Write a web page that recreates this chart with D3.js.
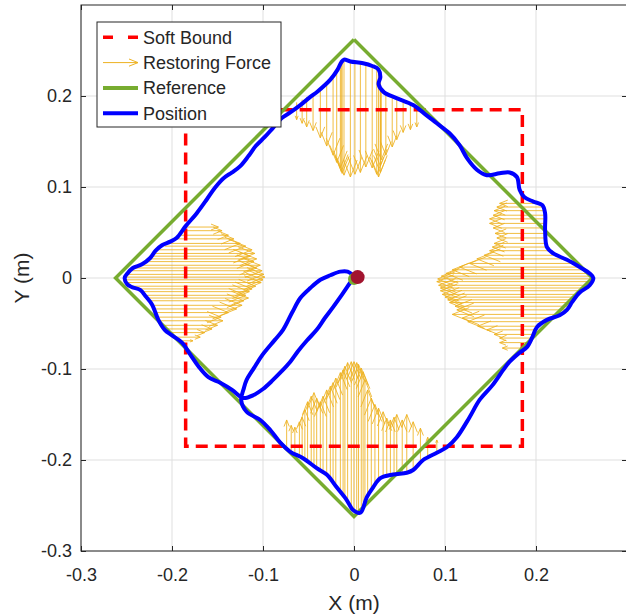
<!DOCTYPE html>
<html>
<head>
<meta charset="utf-8">
<script src="https://cdn.jsdelivr.net/npm/d3@7"></script>
<style>
  body { margin: 0; background: #fff; }
  svg { display: block; font-family: "Liberation Sans", Arial, Helvetica, sans-serif; }
</style>
</head>
<body>
<svg id="chart" width="626" height="616"></svg>
<script>
// axis ticks
const tickValues = [-0.3, -0.2, -0.1, 0, 0.1, 0.2];

// soft bound square
const boundX = [-0.185, 0.185, 0.185, -0.185, -0.185];
const boundY = [0.185, 0.185, -0.185, -0.185, 0.185];

// reference diamond
const refX = [0, 0.262, 0, -0.262, 0];
const refY = [0.262, 0, -0.262, 0, 0.262];

// position: from the origin out to the diamond
const pathOut = [
  [0, 0], [-0.004, -0.005], [-0.013, -0.018], [-0.023, -0.032], [-0.032, -0.044],
  [-0.041, -0.057], [-0.052, -0.069], [-0.062, -0.081], [-0.070, -0.092], [-0.080, -0.103],
  [-0.089, -0.112], [-0.100, -0.122], [-0.111, -0.129], [-0.121, -0.132]
];

// position: one lap around the diamond
const lapPath = [
  [-0.124, -0.131], [-0.134, -0.123], [-0.147, -0.115], [-0.160, -0.109], [-0.171, -0.097],
  [-0.180, -0.084], [-0.189, -0.071], [-0.200, -0.063], [-0.208, -0.057], [-0.215, -0.046],
  [-0.222, -0.029], [-0.229, -0.020], [-0.235, -0.013], [-0.244, -0.010], [-0.249, -0.007],
  [-0.252, 0], [-0.249, 0.005], [-0.243, 0.011], [-0.233, 0.015], [-0.224, 0.022],
  [-0.218, 0.030], [-0.211, 0.036], [-0.202, 0.040], [-0.195, 0.044], [-0.185, 0.057],
  [-0.173, 0.071], [-0.162, 0.086], [-0.153, 0.099], [-0.143, 0.110], [-0.134, 0.116],
  [-0.125, 0.123], [-0.116, 0.134], [-0.108, 0.145], [-0.098, 0.155], [-0.089, 0.165],
  [-0.079, 0.176], [-0.070, 0.182], [-0.059, 0.190], [-0.048, 0.199], [-0.040, 0.205],
  [-0.026, 0.218], [-0.018, 0.229], [-0.014, 0.237], [-0.011, 0.240], [-0.004, 0.238],
  [0.010, 0.236], [0.020, 0.233], [0.027, 0.229], [0.029, 0.221], [0.027, 0.213],
  [0.033, 0.204], [0.046, 0.198], [0.065, 0.190], [0.077, 0.181], [0.091, 0.170],
  [0.105, 0.159], [0.116, 0.146], [0.124, 0.132], [0.135, 0.119], [0.146, 0.113],
  [0.160, 0.115], [0.171, 0.116], [0.179, 0.111], [0.182, 0.097], [0.187, 0.089],
  [0.197, 0.084], [0.207, 0.080], [0.210, 0.071], [0.210, 0.053], [0.212, 0.034],
  [0.219, 0.027], [0.234, 0.020], [0.248, 0.012], [0.259, 0.005], [0.263, 0],
  [0.259, -0.008], [0.248, -0.016], [0.240, -0.026], [0.234, -0.035], [0.226, -0.041],
  [0.212, -0.046], [0.201, -0.054], [0.196, -0.065], [0.190, -0.076], [0.182, -0.082],
  [0.171, -0.092], [0.164, -0.101], [0.152, -0.118], [0.138, -0.134], [0.127, -0.153],
  [0.113, -0.175], [0.102, -0.186], [0.091, -0.192], [0.076, -0.200], [0.065, -0.211],
  [0.058, -0.214], [0.043, -0.216], [0.029, -0.220], [0.021, -0.230], [0.014, -0.241],
  [0.007, -0.258], [-0.001, -0.255], [-0.008, -0.244], [-0.019, -0.230], [-0.030, -0.216],
  [-0.041, -0.209], [-0.056, -0.198], [-0.070, -0.191], [-0.081, -0.181], [-0.092, -0.167],
  [-0.103, -0.156], [-0.118, -0.147], [-0.124, -0.134]
];

// position: back to the origin
const pathBack = [
  [-0.121, -0.121], [-0.118, -0.112], [-0.110, -0.099], [-0.101, -0.085], [-0.087, -0.068],
  [-0.078, -0.057], [-0.068, -0.038], [-0.059, -0.022], [-0.048, -0.011], [-0.037, -0.002],
  [-0.026, 0.003], [-0.015, 0.007], [-0.007, 0.007], [0, 0.002]
];

// restoring force arrows: [x, yFrom, yTo]
const forceTop = [
  [-0.063, 0.193, 0.174], [-0.057, 0.196, 0.170], [-0.052, 0.199, 0.166], [-0.045, 0.203, 0.162],
  [-0.037, 0.209, 0.154], [-0.030, 0.214, 0.145], [-0.023, 0.221, 0.135], [-0.019, 0.225, 0.127],
  [-0.015, 0.231, 0.121], [-0.014, 0.234, 0.117], [-0.013, 0.237, 0.115], [-0.011, 0.240, 0.113],
  [-0.004, 0.238, 0.111], [0.001, 0.237, 0.114], [0.007, 0.237, 0.116], [0.013, 0.235, 0.122],
  [0.020, 0.233, 0.121], [0.025, 0.229, 0.114], [0.027, 0.226, 0.111], [0.029, 0.221, 0.116],
  [0.029, 0.214, 0.123], [0.030, 0.209, 0.130], [0.035, 0.203, 0.135], [0.042, 0.200, 0.144],
  [0.047, 0.198, 0.152], [0.054, 0.195, 0.160], [0.062, 0.192, 0.163], [0.069, 0.188, 0.166]
];
// [x, yFrom, yTo]
const forceBottom = [
  [-0.074, -0.189, -0.156], [-0.069, -0.191, -0.162], [-0.065, -0.193, -0.164], [-0.060, -0.196, -0.158],
  [-0.057, -0.198, -0.153], [-0.054, -0.199, -0.145], [-0.051, -0.201, -0.136], [-0.047, -0.203, -0.130],
  [-0.044, -0.206, -0.126], [-0.041, -0.208, -0.132], [-0.037, -0.210, -0.136], [-0.034, -0.212, -0.130],
  [-0.030, -0.216, -0.123], [-0.026, -0.220, -0.119], [-0.023, -0.222, -0.115], [-0.020, -0.226, -0.110],
  [-0.015, -0.233, -0.104], [-0.012, -0.237, -0.101], [-0.010, -0.241, -0.097], [-0.007, -0.246, -0.093],
  [-0.003, -0.252, -0.092], [0.000, -0.256, -0.092], [0.003, -0.258, -0.093], [0.005, -0.255, -0.095],
  [0.008, -0.251, -0.099], [0.010, -0.246, -0.103], [0.012, -0.242, -0.112], [0.015, -0.237, -0.123],
  [0.019, -0.233, -0.132], [0.023, -0.226, -0.139], [0.027, -0.222, -0.143], [0.032, -0.218, -0.147],
  [0.036, -0.217, -0.154], [0.040, -0.216, -0.156], [0.044, -0.215, -0.153], [0.047, -0.215, -0.150],
  [0.053, -0.214, -0.156], [0.058, -0.214, -0.150], [0.065, -0.211, -0.158], [0.073, -0.202, -0.165],
  [0.081, -0.197, -0.175], [0.091, -0.192, -0.178]
];
// [y, xFrom, xTo]
const forceLeft = [
  [0.056, -0.186, -0.149], [0.052, -0.189, -0.145], [0.047, -0.192, -0.138], [0.043, -0.196, -0.132],
  [0.038, -0.203, -0.125], [0.035, -0.208, -0.119], [0.031, -0.215, -0.112], [0.027, -0.221, -0.109],
  [0.024, -0.223, -0.114], [0.021, -0.225, -0.107], [0.018, -0.230, -0.110], [0.014, -0.237, -0.103],
  [0.011, -0.243, -0.107], [0.008, -0.247, -0.101], [0.004, -0.249, -0.099], [0.001, -0.252, -0.098],
  [-0.002, -0.252, -0.100], [-0.005, -0.249, -0.102], [-0.009, -0.245, -0.108], [-0.012, -0.238, -0.112],
  [-0.015, -0.233, -0.115], [-0.019, -0.230, -0.119], [-0.022, -0.227, -0.116], [-0.025, -0.225, -0.121],
  [-0.030, -0.222, -0.123], [-0.034, -0.220, -0.129], [-0.038, -0.218, -0.138], [-0.043, -0.216, -0.146],
  [-0.047, -0.214, -0.144], [-0.052, -0.211, -0.150], [-0.056, -0.208, -0.156], [-0.060, -0.202, -0.164],
  [-0.065, -0.196, -0.169], [-0.069, -0.191, -0.177]
];
// [y, xFrom, xTo]
const forceRight = [
  [0.082, 0.201, 0.160], [0.078, 0.207, 0.157], [0.074, 0.210, 0.154], [0.069, 0.210, 0.153],
  [0.065, 0.210, 0.149], [0.060, 0.210, 0.149], [0.055, 0.210, 0.153], [0.049, 0.211, 0.155],
  [0.044, 0.211, 0.157], [0.038, 0.212, 0.154], [0.034, 0.213, 0.152], [0.030, 0.218, 0.149],
  [0.025, 0.224, 0.143], [0.021, 0.231, 0.135], [0.016, 0.240, 0.127], [0.012, 0.248, 0.116],
  [0.009, 0.254, 0.108], [0.005, 0.258, 0.101], [0.002, 0.262, 0.096], [-0.001, 0.263, 0.092],
  [-0.004, 0.261, 0.091], [-0.008, 0.259, 0.093], [-0.011, 0.254, 0.095], [-0.014, 0.250, 0.095],
  [-0.018, 0.246, 0.097], [-0.021, 0.243, 0.100], [-0.024, 0.241, 0.103], [-0.027, 0.238, 0.105],
  [-0.031, 0.236, 0.111], [-0.035, 0.234, 0.113], [-0.040, 0.227, 0.108], [-0.044, 0.218, 0.119],
  [-0.048, 0.209, 0.125], [-0.053, 0.202, 0.136], [-0.057, 0.199, 0.146], [-0.062, 0.197, 0.154],
  [-0.066, 0.195, 0.160], [-0.071, 0.192, 0.160], [-0.077, 0.190, 0.163]
];

// start markers
const refStart = [0, -0.001];
const posStart = [0.004, 0.001];

const legendItems = [
  { name: 'Soft Bound', kind: 'dash', color: '#ff0000' },
  { name: 'Restoring Force', kind: 'arrow', color: '#edb120' },
  { name: 'Reference', kind: 'line', color: '#77ac30' },
  { name: 'Position', kind: 'line', color: '#0000ff' }
];

const axisColor = '#262626';
const gridColor = '#dfdfdf';

const svg = d3.select('#chart');

const x = d3.scaleLinear().domain([-0.3, 0.3]).range([81, 627]);
const y = d3.scaleLinear().domain([-0.3, 0.3]).range([551, 5]);

const fmt = d => (Math.abs(d) < 1e-9 ? '0' : d3.format('.1f')(d).replace('−', '-'));

// grid
const grid = svg.append('g').attr('class', 'grid');
grid.selectAll('line.gx')
  .data(tickValues)
  .enter().append('line')
  .attr('class', 'gx')
  .attr('x1', d => x(d)).attr('x2', d => x(d))
  .attr('y1', y(-0.3)).attr('y2', y(0.3))
  .attr('stroke', gridColor).attr('stroke-width', 1);
grid.selectAll('line.gy')
  .data(tickValues)
  .enter().append('line')
  .attr('class', 'gy')
  .attr('y1', d => y(d)).attr('y2', d => y(d))
  .attr('x1', x(-0.3)).attr('x2', x(0.3))
  .attr('stroke', gridColor).attr('stroke-width', 1);

// restoring force arrows
const arrows = [
  ...forceTop.map(d => ({ x0: d[0], y0: d[1], x1: d[0], y1: d[2] })),
  ...forceBottom.map(d => ({ x0: d[0], y0: d[1], x1: d[0], y1: d[2] })),
  ...forceLeft.map(d => ({ x0: d[1], y0: d[0], x1: d[2], y1: d[0] })),
  ...forceRight.map(d => ({ x0: d[1], y0: d[0], x1: d[2], y1: d[0] }))
];

const arrowPath = (x0, y0, x1, y1, hMax, hFrac) => {
  const dx = x1 - x0, dy = y1 - y0;
  const len = Math.hypot(dx, dy) || 1;
  const ux = dx / len, uy = dy / len;
  const h = Math.min(hMax, hFrac * len), w = 0.4 * h;
  const bx = x1 - ux * h, by = y1 - uy * h;
  return `M${x0},${y0}L${x1},${y1}M${bx - uy * w},${by + ux * w}L${x1},${y1}L${bx + uy * w},${by - ux * w}`;
};

svg.append('g')
  .attr('class', 'force')
  .selectAll('path')
  .data(arrows)
  .enter().append('path')
  .attr('d', a => arrowPath(x(a.x0), y(a.y0), x(a.x1), y(a.y1), 17, 0.22))
  .attr('fill', 'none')
  .attr('stroke', '#edb120')
  .attr('stroke-width', 1)
  .attr('stroke-opacity', 0.85);

// soft bound
const line = d3.line().x(d => x(d[0])).y(d => y(d[1]));
svg.append('path')
  .datum(d3.zip(boundX, boundY))
  .attr('d', line)
  .attr('fill', 'none')
  .attr('stroke', '#ff0000')
  .attr('stroke-width', 3.5)
  .attr('stroke-dasharray', '12,7');

// reference
svg.append('path')
  .datum(d3.zip(refX, refY))
  .attr('d', line)
  .attr('fill', 'none')
  .attr('stroke', '#77ac30')
  .attr('stroke-width', 3.5)
  .attr('stroke-linejoin', 'miter');

// position
const smooth = d3.line().x(d => x(d[0])).y(d => y(d[1])).curve(d3.curveCatmullRom.alpha(0.5));
svg.append('path')
  .datum([...pathOut, ...lapPath, ...pathBack])
  .attr('d', smooth)
  .attr('fill', 'none')
  .attr('stroke', '#0000ff')
  .attr('stroke-width', 4)
  .attr('stroke-linejoin', 'round');

// start markers
svg.append('circle')
  .attr('cx', x(refStart[0])).attr('cy', y(refStart[1])).attr('r', 6)
  .attr('fill', '#77ac30');
svg.append('circle')
  .attr('cx', x(posStart[0])).attr('cy', y(posStart[1])).attr('r', 7)
  .attr('fill', '#a2142f');

// axes (MATLAB style box, ticks inside)
const axes = svg.append('g').attr('class', 'axes');
const styleAxis = g => {
  g.select('.domain').remove();
  g.selectAll('.tick line').attr('stroke', axisColor);
  g.selectAll('.tick text').attr('fill', axisColor).attr('font-size', 18);
};

axes.append('g')
  .attr('transform', `translate(0,${y(-0.3)})`)
  .call(d3.axisBottom(x).tickValues(tickValues).tickSize(-5).tickPadding(17).tickFormat(fmt))
  .call(styleAxis);
axes.append('g')
  .attr('transform', `translate(${x(-0.3)},0)`)
  .call(d3.axisLeft(y).tickValues(tickValues).tickSize(-5).tickPadding(9).tickFormat(fmt))
  .call(styleAxis);
axes.append('g')
  .attr('transform', `translate(0,${y(0.3)})`)
  .call(d3.axisTop(x).tickValues(tickValues).tickSize(-5).tickFormat(''))
  .call(styleAxis);
axes.append('g')
  .attr('transform', `translate(${x(0.3)},0)`)
  .call(d3.axisRight(y).tickValues(tickValues).tickSize(-5).tickFormat(''))
  .call(styleAxis);

axes.append('rect')
  .attr('x', x(-0.3)).attr('y', y(0.3))
  .attr('width', x(0.3) - x(-0.3)).attr('height', y(-0.3) - y(0.3))
  .attr('fill', 'none')
  .attr('stroke', axisColor)
  .attr('stroke-width', 1);

// axis labels
svg.append('text')
  .attr('x', x(0)).attr('y', 610)
  .attr('text-anchor', 'middle')
  .attr('font-size', 21)
  .attr('fill', axisColor)
  .text('X (m)');
svg.append('text')
  .attr('transform', `translate(29,${y(0)}) rotate(-90)`)
  .attr('text-anchor', 'middle')
  .attr('font-size', 21)
  .attr('fill', axisColor)
  .text('Y (m)');

// legend
const legend = svg.append('g').attr('class', 'legend').attr('transform', 'translate(97,22)');
legend.append('rect')
  .attr('width', 184).attr('height', 105)
  .attr('fill', '#fff')
  .attr('stroke', axisColor)
  .attr('stroke-width', 1);

const rows = legend.selectAll('g.row')
  .data(legendItems)
  .enter().append('g')
  .attr('class', 'row')
  .attr('transform', (d, i) => `translate(0,${15.3 + 25.3 * i})`);

rows.filter(d => d.kind !== 'arrow')
  .append('line')
  .attr('x1', 6).attr('x2', 41).attr('y1', 0).attr('y2', 0)
  .attr('stroke', d => d.color)
  .attr('stroke-width', d => (d.kind === 'dash' ? 3.5 : 4))
  .attr('stroke-dasharray', d => (d.kind === 'dash' ? '10,15' : null));

rows.filter(d => d.kind === 'arrow')
  .append('path')
  .attr('d', arrowPath(6, 0, 41, 0, 9, 1))
  .attr('fill', 'none')
  .attr('stroke', d => d.color)
  .attr('stroke-width', 1);

rows.append('text')
  .attr('x', 46).attr('y', 0)
  .attr('dy', '0.35em')
  .attr('font-size', 18)
  .attr('fill', axisColor)
  .text(d => d.name);
</script>
</body>
</html>
